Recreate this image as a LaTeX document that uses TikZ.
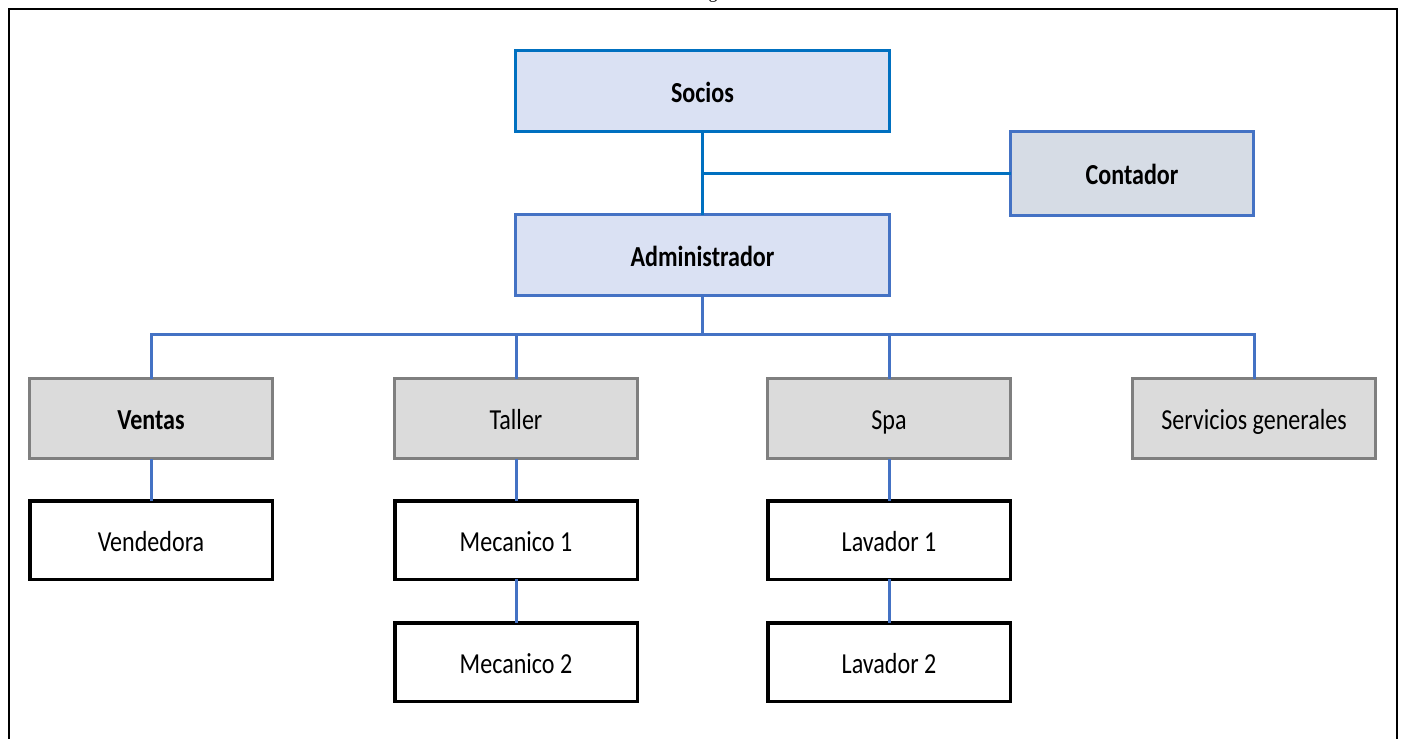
\documentclass[tikz,border=0pt]{standalone}
\usepackage{fontspec}
\setmainfont{Carlito}[FakeStretch=0.83]
\newfontfamily\capfont{Liberation Serif}
\begin{document}
\begin{tikzpicture}[x=1pt,y=-1pt,
  every node/.style={inner sep=0pt,outer sep=0pt,align=center,
    text height=22pt,text depth=0pt,font=\fontsize{29}{31}\selectfont},
  topbox/.style={draw=blue1,fill=lav,line width=3pt,minimum width=374pt,minimum height=81pt,font=\fontsize{29}{31}\selectfont\bfseries},
  accbox/.style={draw=blue2,fill=steel,line width=3pt,minimum width=243pt,minimum height=84pt,font=\fontsize{29}{31}\selectfont\bfseries},
  deptbox/.style={draw=gborder,fill=gfill,line width=3pt,minimum width=243pt,minimum height=80pt},
  staffbox/.style={draw=black,fill=white,line width=3.5pt,minimum width=242.5pt,minimum height=78.5pt},
  link/.style={draw=blue2,line width=3pt},
  toplink/.style={draw=blue1,line width=3pt},
  frame/.style={draw=black,line width=2pt}]
\definecolor{blue1}{HTML}{0070C0}
\definecolor{blue2}{HTML}{4472C4}
\definecolor{lav}{HTML}{DAE1F3}
\definecolor{steel}{HTML}{D6DCE5}
\definecolor{gborder}{HTML}{7F7F7F}
\definecolor{gfill}{HTML}{DBDBDB}

\useasboundingbox (0,0) rectangle (1401,739);

% caption above the frame, mostly cut away
\begin{scope}
  \clip (0,0) rectangle (1401,739);
  \node[anchor=base,font=\capfont\fontsize{18}{20}\selectfont,text height=,text depth=] (caption) at (713,-1.5) {g};
\end{scope}

% outer frame
\coordinate (fl) at (9,739);
\coordinate (ftl) at (9,9);
\coordinate (ftr) at (1397,9);
\coordinate (fr) at (1397,739);
\draw[frame] (fl) -- (ftl) -- (ftr) -- (fr);

% management
\node[topbox] (socios) at (702.5,91) {Socios};
\node[topbox,draw=blue2] (admin) at (702.5,255) {Administrador};
\node[accbox] (contador) at (1132,173.5) {Contador};

% departments
\node[deptbox,font=\fontsize{29}{31}\selectfont\bfseries] (ventas) at (151,418.5) {Ventas};
\node[deptbox] (taller) at (516,418.5) {Taller};
\node[deptbox] (spa) at (889,418.5) {Spa};
\node[deptbox] (serv) at (1254,418.5) {Servicios generales};

% staff
\node[staffbox] (vend) at (151,540) {Vendedora};
\node[staffbox] (mec1) at (516,540) {Mecanico 1};
\node[staffbox] (mec2) at (516,662) {Mecanico 2};
\node[staffbox] (lav1) at (889,540) {Lavador 1};
\node[staffbox] (lav2) at (889,662) {Lavador 2};

% connectors
\draw[toplink] (socios.south) -- (admin.north);
\draw[toplink] (socios.south |- contador.west) -- (contador.west);
\draw[link] (admin.south) -- ++(0,38.5) coordinate (bus);
\draw[link] (ventas.north) -- (ventas.north |- bus) -- (serv.north |- bus) -- (serv.north);
\draw[link] (taller.north) -- (taller.north |- bus);
\draw[link] (spa.north) -- (spa.north |- bus);
\draw[link] (ventas.south) -- (vend.north);
\draw[link] (taller.south) -- (mec1.north);
\draw[link] (mec1.south) -- (mec2.north);
\draw[link] (spa.south) -- (lav1.north);
\draw[link] (lav1.south) -- (lav2.north);
\end{tikzpicture}
\end{document}
